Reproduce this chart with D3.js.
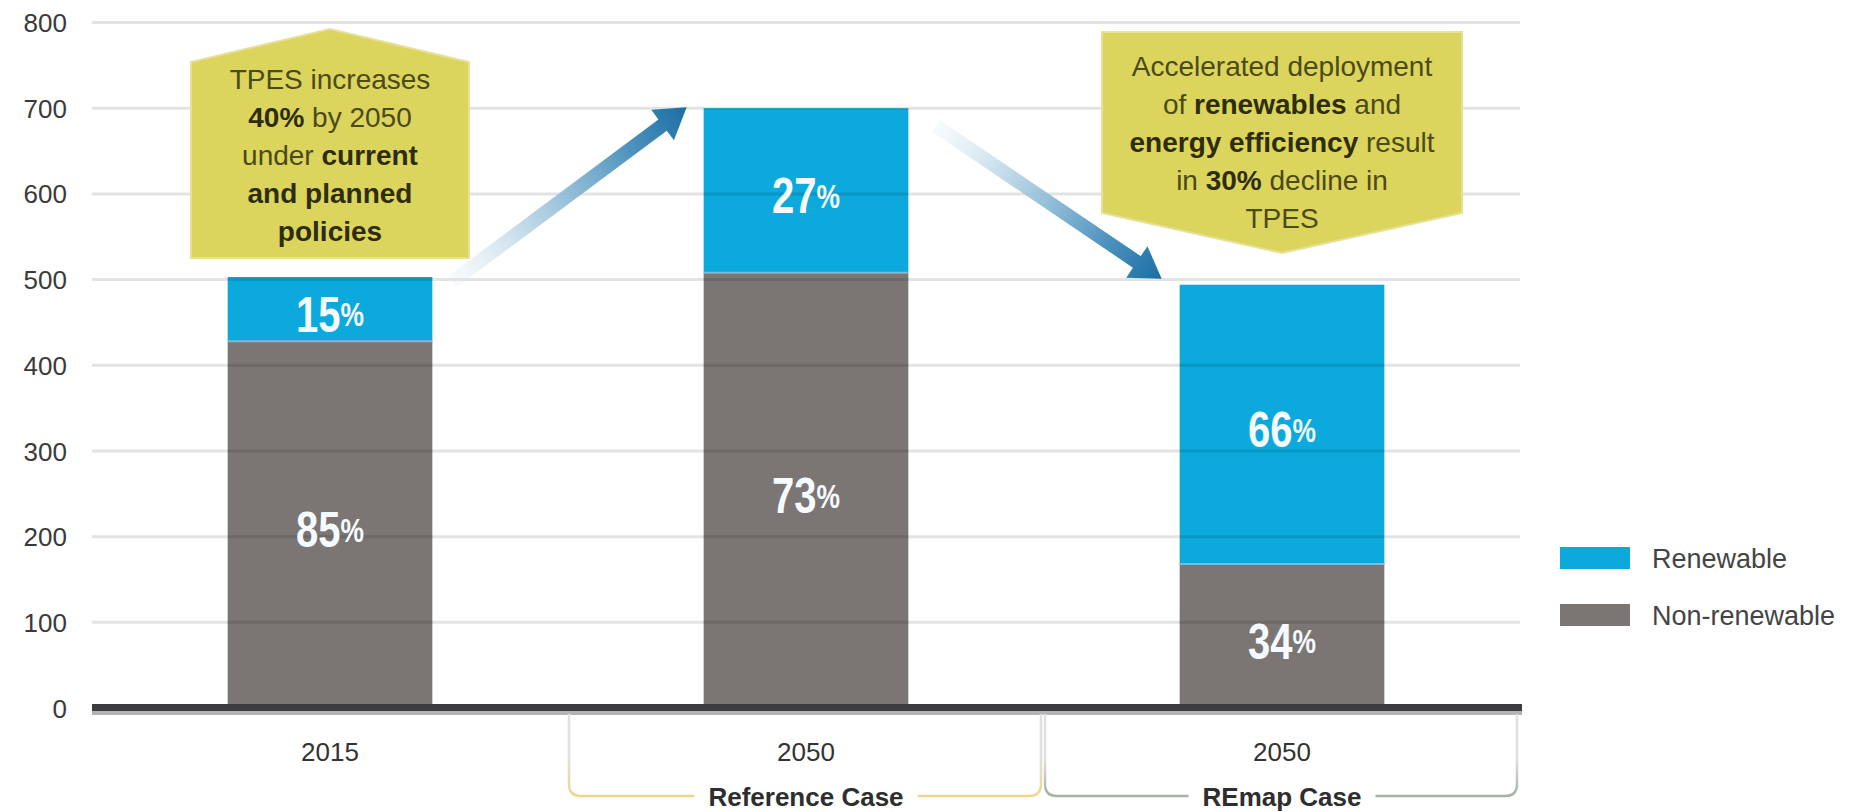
<!DOCTYPE html>
<html>
<head>
<meta charset="utf-8">
<script src="https://cdn.jsdelivr.net/npm/d3@7"></script>
<style>
  html, body { margin: 0; padding: 0; background: #ffffff; }
  svg { display: block; }
  text { font-family: "Liberation Sans", Arial, sans-serif; }
</style>
</head>
<body>
<svg id="chart" width="1862" height="812"></svg>
<script>
// ---------------- data ----------------
const categories   = ["2015", "2050", "2050"];
const caseLabels   = [null, "Reference Case", "REmap Case"];
const nonRenewable = [428, 508, 168];
const renewable    = [75, 192, 326];
const yTickValues  = [0, 100, 200, 300, 400, 500, 600, 700, 800];
const seriesNames  = ["Renewable", "Non-renewable"];
const note1Lines = [
  [["TPES increases", false]],
  [["40%", true], [" by 2050", false]],
  [["under ", false], ["current", true]],
  [["and planned", true]],
  [["policies", true]]
];
const note2Lines = [
  [["Accelerated deployment", false]],
  [["of ", false], ["renewables", true], [" and", false]],
  [["energy efficiency", true], [" result", false]],
  [["in ", false], ["30%", true], [" decline in", false]],
  [["TPES", false]]
];

// ---------------- styles ----------------
const colRenew = "#0ba9dc";
const colNon = "#7b7674";
const colBox = "#dbd45d";
const colBoxText = "#4d4a17";
const colBoxBold = "#2f2d08";

const svg = d3.select("#chart");
const defs = svg.append("defs");

const x = d3.scaleBand()
  .domain(d3.range(categories.length))
  .range([92, 1520])
  .paddingInner(0.57)
  .paddingOuter(0.285);
const y = d3.scaleLinear().domain([0, 800]).range([708, 22.5]);
const cx = i => x(i) + x.bandwidth() / 2;
const step = x.step();

// ---------------- bars ----------------
const data = categories.map((c, i) => {
  const tot = nonRenewable[i] + renewable[i];
  return { i, non: nonRenewable[i], ren: renewable[i], tot };
});

const barG = svg.append("g");
barG.selectAll("rect.non").data(data).enter().append("rect")
  .attr("x", d => x(d.i)).attr("width", x.bandwidth())
  .attr("y", d => y(d.non)).attr("height", d => y(0) - y(d.non))
  .attr("fill", colNon);
barG.selectAll("rect.ren").data(data).enter().append("rect")
  .attr("x", d => x(d.i)).attr("width", x.bandwidth())
  .attr("y", d => y(d.tot)).attr("height", d => y(d.non) - y(d.tot))
  .attr("fill", colRenew);
barG.selectAll("line.sep").data(data).enter().append("line")
  .attr("x1", d => x(d.i)).attr("x2", d => x(d.i) + x.bandwidth())
  .attr("y1", d => y(d.non)).attr("y2", d => y(d.non))
  .attr("stroke", "#7fb9d2").attr("stroke-width", 2);

// ---------------- grid ----------------
const gridG = svg.append("g");
gridG.selectAll("line").data(yTickValues.filter(v => v > 0)).enter().append("line")
  .attr("x1", 92).attr("x2", 1520)
  .attr("y1", d => y(d)).attr("y2", d => y(d))
  .attr("stroke", "rgba(0,0,0,0.11)").attr("stroke-width", 3);

// y axis labels via d3 axis
const yAxis = d3.axisLeft(y).tickValues(yTickValues).tickSize(0).tickPadding(0);
const yAxisG = svg.append("g").attr("transform", "translate(67,0)").call(yAxis);
yAxisG.select(".domain").remove();
yAxisG.selectAll("text")
  .attr("font-size", 26).attr("fill", "#3a3a3a")
  .attr("font-family", "\"Liberation Sans\", Arial, sans-serif")
  .attr("dy", "0.35em");

// baseline
svg.append("rect").attr("x", 92).attr("y", y(0) - 4).attr("width", 1430).attr("height", 7).attr("fill", "#3d3d41");
svg.append("rect").attr("x", 92).attr("y", y(0) + 3).attr("width", 1430).attr("height", 4).attr("fill", "#b4b4b6");

// x category labels
const xAxis = d3.axisBottom(x).tickFormat(i => categories[i]).tickSize(0).tickPadding(0);
const xAxisG = svg.append("g").attr("transform", `translate(0,${y(0) + 44})`).call(xAxis);
xAxisG.select(".domain").remove();
xAxisG.selectAll("text")
  .attr("font-size", 26).attr("fill", "#333")
  .attr("font-family", "\"Liberation Sans\", Arial, sans-serif")
  .attr("dy", "0.35em").attr("y", 0);

// ---------------- case brackets ----------------
const bracketColors = [null, "#f0d68c", "#a3b1a3"];
const bracketG = svg.append("g");
caseLabels.forEach((lab, i) => {
  if (!lab) return;
  const left = x(i) - x.paddingInner() * step / 2 + 1;
  const right = left + step - 4;
  const top = y(0) + 6, bottom = 796, r = 12;
  const gid = "bg" + i;
  const g = defs.append("linearGradient").attr("id", gid)
    .attr("gradientUnits", "userSpaceOnUse").attr("x1", 0).attr("x2", 0).attr("y1", top).attr("y2", bottom);
  g.append("stop").attr("offset", "0").attr("stop-color", "#e0e0e0");
  g.append("stop").attr("offset", "0.55").attr("stop-color", "#e0e0e0");
  g.append("stop").attr("offset", "1").attr("stop-color", bracketColors[i]);
  const path = bracketG.append("path");
  const t = bracketG.append("text").attr("x", cx(i)).attr("y", 806)
    .attr("text-anchor", "middle").attr("font-size", 26).attr("font-weight", "bold")
    .attr("fill", "#2e2e2e").text(lab);
  const w = t.node().getComputedTextLength();
  const gap = 14;
  const p = `M${left},${top} V${bottom - r} Q${left},${bottom} ${left + r},${bottom} H${cx(i) - w / 2 - gap}` +
            ` M${cx(i) + w / 2 + gap},${bottom} H${right - r} Q${right},${bottom} ${right},${bottom - r} V${top}`;
  path.attr("d", p).attr("fill", "none")
    .attr("stroke", `url(#${gid})`).attr("stroke-width", 2.5);
});

// ---------------- arrows ----------------
function arrow(T, P, id) {
  const dx = P[0] - T[0], dy = P[1] - T[1];
  const L = Math.hypot(dx, dy);
  const ux = dx / L, uy = dy / L, nx = -uy, ny = ux;
  const sw = 14, hw = 38, hl = 30;
  const B = [P[0] - ux * hl, P[1] - uy * hl];
  const pts = [
    [T[0] + nx * sw / 2, T[1] + ny * sw / 2],
    [B[0] + nx * sw / 2, B[1] + ny * sw / 2],
    [B[0] + nx * hw / 2, B[1] + ny * hw / 2],
    P,
    [B[0] - nx * hw / 2, B[1] - ny * hw / 2],
    [B[0] - nx * sw / 2, B[1] - ny * sw / 2],
    [T[0] - nx * sw / 2, T[1] - ny * sw / 2]
  ];
  const g = defs.append("linearGradient").attr("id", id)
    .attr("gradientUnits", "userSpaceOnUse")
    .attr("x1", T[0]).attr("y1", T[1]).attr("x2", P[0]).attr("y2", P[1]);
  g.append("stop").attr("offset", "0").attr("stop-color", "#dbe9f1").attr("stop-opacity", 0.2);
  g.append("stop").attr("offset", "0.3").attr("stop-color", "#b9d5e6").attr("stop-opacity", 0.85);
  g.append("stop").attr("offset", "0.75").attr("stop-color", "#4f94bf");
  g.append("stop").attr("offset", "1").attr("stop-color", "#1a6ea3");
  svg.append("polygon").attr("points", pts.map(p => p.join(",")).join(" "))
    .attr("fill", `url(#${id})`);
}
arrow([452, 282], [x(1) - 17, y(data[1].tot) - 1], "ar1");
arrow([936, 126], [x(2) - 18, y(data[2].tot) - 6], "ar2");

// ---------------- annotation boxes ----------------
function noteBox(poly, lines, centerX, firstY, lineH) {
  svg.append("polygon").attr("points", poly.map(p => p.join(",")).join(" "))
    .attr("fill", colBox).attr("stroke", "#e6e19a").attr("stroke-width", 2);
  lines.forEach((parts, k) => {
    const t = svg.append("text").attr("x", centerX).attr("y", firstY + k * lineH)
      .attr("text-anchor", "middle").attr("dominant-baseline", "central")
      .attr("font-size", 28);
    parts.forEach(([s, b]) => {
      t.append("tspan").text(s)
        .attr("font-weight", b ? "bold" : "normal")
        .attr("fill", b ? colBoxBold : colBoxText);
    });
  });
}
const b1l = cx(0) - 139, b1r = cx(0) + 139;
noteBox([[b1l, 258], [b1l, 62], [cx(0), 29], [b1r, 62], [b1r, 258]], note1Lines, cx(0), 79, 38);
const b2l = cx(2) - 180, b2r = cx(2) + 180;
noteBox([[b2l, 32], [b2r, 32], [b2r, 213], [cx(2), 253], [b2l, 213]], note2Lines, cx(2), 66, 38);

// ---------------- bar share labels ----------------
function shareLabel(i, mid, pct) {
  const t = svg.append("text")
    .attr("transform", `translate(${cx(i)},${mid + 5}) scale(0.8,1)`)
    .attr("text-anchor", "middle").attr("dominant-baseline", "central")
    .attr("font-weight", "bold").attr("fill", "#f5fbff");
  t.append("tspan").attr("font-size", 50).text(pct);
  t.append("tspan").attr("font-size", 33).text("%");
}
data.forEach(d => {
  shareLabel(d.i, (y(0) + y(d.non)) / 2, Math.round(d.non / d.tot * 100));
  shareLabel(d.i, (y(d.non) + y(d.tot)) / 2, Math.round(d.ren / d.tot * 100));
});

// ---------------- legend ----------------
const legend = svg.append("g").attr("transform", "translate(1560,547)");
[colRenew, colNon].forEach((c, k) => {
  legend.append("rect").attr("x", 0).attr("y", k * 57).attr("width", 70).attr("height", 22).attr("fill", c);
  legend.append("text").attr("x", 92).attr("y", k * 57 + 12)
    .attr("dominant-baseline", "central").attr("font-size", 27).attr("fill", "#444")
    .text(seriesNames[k]);
});
</script>
</body>
</html>
